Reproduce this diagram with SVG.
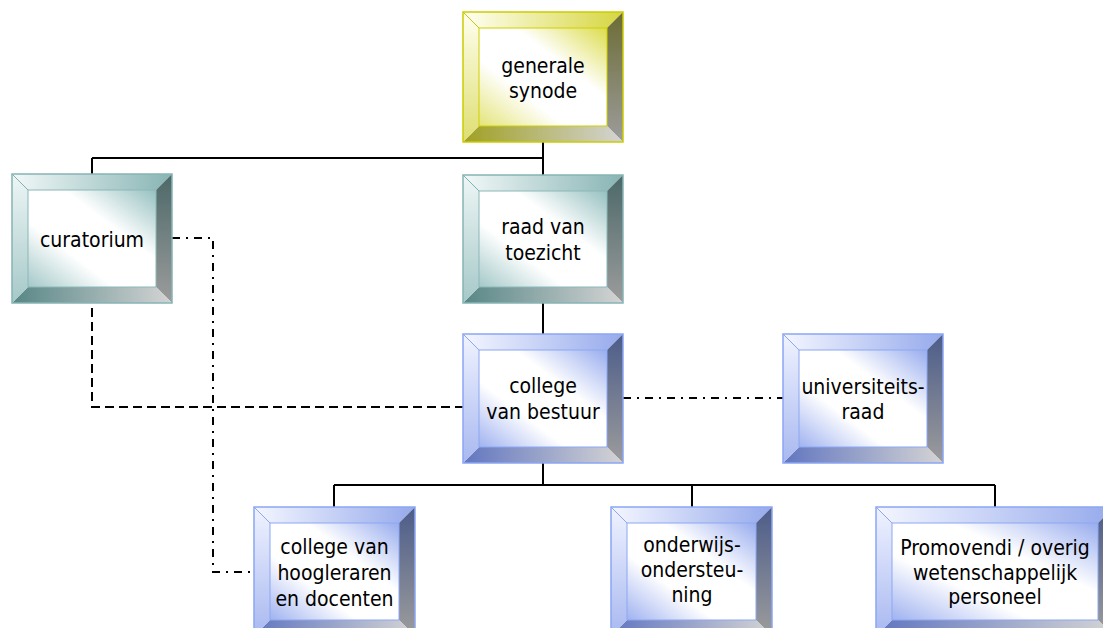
<svg xmlns="http://www.w3.org/2000/svg" width="1103" height="628" viewBox="0 0 1103 628">
<defs>
<linearGradient id="yTop" x1="0" y1="0" x2="1" y2="0"><stop offset="0" stop-color="#fffff4"/><stop offset="1" stop-color="#d6d640"/></linearGradient>
<linearGradient id="yLeft" x1="0" y1="0" x2="0" y2="1"><stop offset="0" stop-color="#fffff0"/><stop offset="1" stop-color="#dede70"/></linearGradient>
<linearGradient id="yRight" x1="0" y1="0" x2="0" y2="1"><stop offset="0" stop-color="#6c6c34"/><stop offset="1" stop-color="#9c9c9c"/></linearGradient>
<linearGradient id="yBottom" x1="0" y1="0" x2="1" y2="0"><stop offset="0" stop-color="#a0a024"/><stop offset="1" stop-color="#d4d4d4"/></linearGradient>
<linearGradient id="yFace" x1="0" y1="1" x2="1" y2="0"><stop offset="0" stop-color="#e4e47a"/><stop offset="0.34" stop-color="#ffffff"/><stop offset="0.64" stop-color="#ffffff"/><stop offset="1" stop-color="#dcdc4c"/></linearGradient>

<linearGradient id="tTop" x1="0" y1="0" x2="1" y2="0"><stop offset="0" stop-color="#f2f8f8"/><stop offset="1" stop-color="#88b4b4"/></linearGradient>
<linearGradient id="tLeft" x1="0" y1="0" x2="0" y2="1"><stop offset="0" stop-color="#eef6f6"/><stop offset="1" stop-color="#a6c8c8"/></linearGradient>
<linearGradient id="tRight" x1="0" y1="0" x2="0" y2="1"><stop offset="0" stop-color="#4c6868"/><stop offset="1" stop-color="#9c9c9c"/></linearGradient>
<linearGradient id="tBottom" x1="0" y1="0" x2="1" y2="0"><stop offset="0" stop-color="#588686"/><stop offset="1" stop-color="#d4d4d4"/></linearGradient>
<linearGradient id="tFace" x1="0" y1="1" x2="1" y2="0"><stop offset="0" stop-color="#a4c8c8"/><stop offset="0.34" stop-color="#ffffff"/><stop offset="0.64" stop-color="#ffffff"/><stop offset="1" stop-color="#96c0c0"/></linearGradient>

<linearGradient id="bTop" x1="0" y1="0" x2="1" y2="0"><stop offset="0" stop-color="#f4f6ff"/><stop offset="1" stop-color="#96aaec"/></linearGradient>
<linearGradient id="bLeft" x1="0" y1="0" x2="0" y2="1"><stop offset="0" stop-color="#f0f3ff"/><stop offset="1" stop-color="#a8b8f0"/></linearGradient>
<linearGradient id="bRight" x1="0" y1="0" x2="0" y2="1"><stop offset="0" stop-color="#4c5c8a"/><stop offset="1" stop-color="#9c9c9c"/></linearGradient>
<linearGradient id="bBottom" x1="0" y1="0" x2="1" y2="0"><stop offset="0" stop-color="#6276c0"/><stop offset="1" stop-color="#d4d4d4"/></linearGradient>
<linearGradient id="bFace" x1="0" y1="1" x2="1" y2="0"><stop offset="0" stop-color="#a0b2f0"/><stop offset="0.34" stop-color="#ffffff"/><stop offset="0.64" stop-color="#ffffff"/><stop offset="1" stop-color="#98acee"/></linearGradient>
</defs>
<style>
.txt{font-family:"DejaVu Sans Condensed","DejaVu Sans",sans-serif;font-stretch:condensed;font-size:21px;fill:#000;text-anchor:middle}
.y .top{fill:url(#yTop)} .y .left{fill:url(#yLeft)} .y .right{fill:url(#yRight)} .y .bottom{fill:url(#yBottom)} .y .face{fill:url(#yFace);stroke:#d0d000;stroke-width:1}
.y .edge{fill:none;stroke:#cccc00;stroke-width:1.5}
.t .top{fill:url(#tTop)} .t .left{fill:url(#tLeft)} .t .right{fill:url(#tRight)} .t .bottom{fill:url(#tBottom)} .t .face{fill:url(#tFace);stroke:#8cb8b8;stroke-width:1}
.t .edge{fill:none;stroke:#86b4b4;stroke-width:1.5}
.b .top{fill:url(#bTop)} .b .left{fill:url(#bLeft)} .b .right{fill:url(#bRight)} .b .bottom{fill:url(#bBottom)} .b .face{fill:url(#bFace);stroke:#8ca8f4;stroke-width:1}
.b .edge{fill:none;stroke:#8aa6f4;stroke-width:1.5}
.diag{stroke-width:1}
.y .diag{stroke:#c8c800} .t .diag{stroke:#80b0b0} .b .diag{stroke:#8aa6f4}
.solid{fill:none;stroke:#000;stroke-width:2}
.dash{fill:none;stroke:#000;stroke-width:2;stroke-dasharray:9 5}
.dashdot{fill:none;stroke:#000;stroke-width:2;stroke-dasharray:8 6 2 6}
</style>

<g id="connectors">
<path class="solid" d="M543 142V158M92 158H543M92 158V174M543 158V175"/>
<path class="solid" d="M543 303V334"/>
<path class="solid" d="M543 463V485M334 485H995M334 485V507M692 485V507M995 485V507"/>
<path class="dash" d="M92 308V407H463"/>
<path class="dashdot" d="M172 238H213V572H254"/>
<path class="dashdot" d="M623 398H783"/>
</g>

<g id="generale-synode" class="y" transform="translate(463,12)">
<polygon class="top" points="0,0 160,0 144,16 16,16"/>
<polygon class="right" points="160,0 160,130 144,114 144,16"/>
<polygon class="bottom" points="0,130 160,130 144,114 16,114"/>
<polygon class="left" points="0,0 16,16 16,114 0,130"/>
<rect class="face" x="16" y="16" width="128" height="98"/>
<line class="diag" x1="0" y1="0" x2="16" y2="16"/>
<rect class="edge" x="0" y="0" width="160" height="130"/>
<text class="txt" x="80" y="61">generale<tspan x="80" dy="25">synode</tspan></text>
</g>

<g id="curatorium" class="t" transform="translate(12,174)">
<polygon class="top" points="0,0 160,0 144,16 16,16"/>
<polygon class="right" points="160,0 160,129 144,113 144,16"/>
<polygon class="bottom" points="0,129 160,129 144,113 16,113"/>
<polygon class="left" points="0,0 16,16 16,113 0,129"/>
<rect class="face" x="16" y="16" width="128" height="97"/>
<line class="diag" x1="0" y1="0" x2="16" y2="16"/>
<rect class="edge" x="0" y="0" width="160" height="129"/>
<text class="txt" x="80" y="73">curatorium</text>
</g>

<g id="raad-van-toezicht" class="t" transform="translate(463,175)">
<polygon class="top" points="0,0 160,0 144,16 16,16"/>
<polygon class="right" points="160,0 160,128 144,112 144,16"/>
<polygon class="bottom" points="0,128 160,128 144,112 16,112"/>
<polygon class="left" points="0,0 16,16 16,112 0,128"/>
<rect class="face" x="16" y="16" width="128" height="96"/>
<line class="diag" x1="0" y1="0" x2="16" y2="16"/>
<rect class="edge" x="0" y="0" width="160" height="128"/>
<text class="txt" x="80" y="59">raad van<tspan x="80" dy="26">toezicht</tspan></text>
</g>

<g id="college-van-bestuur" class="b" transform="translate(463,334)">
<polygon class="top" points="0,0 160,0 144,16 16,16"/>
<polygon class="right" points="160,0 160,129 144,113 144,16"/>
<polygon class="bottom" points="0,129 160,129 144,113 16,113"/>
<polygon class="left" points="0,0 16,16 16,113 0,129"/>
<rect class="face" x="16" y="16" width="128" height="97"/>
<line class="diag" x1="0" y1="0" x2="16" y2="16"/>
<rect class="edge" x="0" y="0" width="160" height="129"/>
<text class="txt" x="80" y="59">college<tspan x="80" dy="26">van bestuur</tspan></text>
</g>

<g id="universiteitsraad" class="b" transform="translate(783,334)">
<polygon class="top" points="0,0 160,0 144,16 16,16"/>
<polygon class="right" points="160,0 160,129 144,113 144,16"/>
<polygon class="bottom" points="0,129 160,129 144,113 16,113"/>
<polygon class="left" points="0,0 16,16 16,113 0,129"/>
<rect class="face" x="16" y="16" width="128" height="97"/>
<line class="diag" x1="0" y1="0" x2="16" y2="16"/>
<rect class="edge" x="0" y="0" width="160" height="129"/>
<text class="txt" x="80" y="60">universiteits-<tspan x="80" dy="25">raad</tspan></text>
</g>

<g id="college-van-hoogleraren" class="b" transform="translate(254,507)">
<polygon class="top" points="0,0 161,0 145,16 16,16"/>
<polygon class="right" points="161,0 161,129 145,113 145,16"/>
<polygon class="bottom" points="0,129 161,129 145,113 16,113"/>
<polygon class="left" points="0,0 16,16 16,113 0,129"/>
<rect class="face" x="16" y="16" width="129" height="97"/>
<line class="diag" x1="0" y1="0" x2="16" y2="16"/>
<rect class="edge" x="0" y="0" width="161" height="129"/>
<text class="txt" x="80.5" y="47">college van<tspan x="80.5" dy="26">hoogleraren</tspan><tspan x="80.5" dy="26">en docenten</tspan></text>
</g>

<g id="onderwijsondersteuning" class="b" transform="translate(611,507)">
<polygon class="top" points="0,0 161,0 145,16 16,16"/>
<polygon class="right" points="161,0 161,129 145,113 145,16"/>
<polygon class="bottom" points="0,129 161,129 145,113 16,113"/>
<polygon class="left" points="0,0 16,16 16,113 0,129"/>
<rect class="face" x="16" y="16" width="129" height="97"/>
<line class="diag" x1="0" y1="0" x2="16" y2="16"/>
<rect class="edge" x="0" y="0" width="161" height="129"/>
<text class="txt" x="81" y="45">onderwijs-<tspan x="81" dy="25">ondersteu-</tspan><tspan x="81" dy="25">ning</tspan></text>
</g>

<g id="promovendi" class="b" transform="translate(876,507)">
<polygon class="top" points="0,0 238,0 222,16 16,16"/>
<polygon class="right" points="238,0 238,129 222,113 222,16"/>
<polygon class="bottom" points="0,129 238,129 222,113 16,113"/>
<polygon class="left" points="0,0 16,16 16,113 0,129"/>
<rect class="face" x="16" y="16" width="206" height="97"/>
<line class="diag" x1="0" y1="0" x2="16" y2="16"/>
<rect class="edge" x="0" y="0" width="238" height="129"/>
<text class="txt" x="119" y="48">Promovendi / overig<tspan x="119" dy="25">wetenschappelijk</tspan><tspan x="119" dy="24">personeel</tspan></text>
</g>
</svg>
